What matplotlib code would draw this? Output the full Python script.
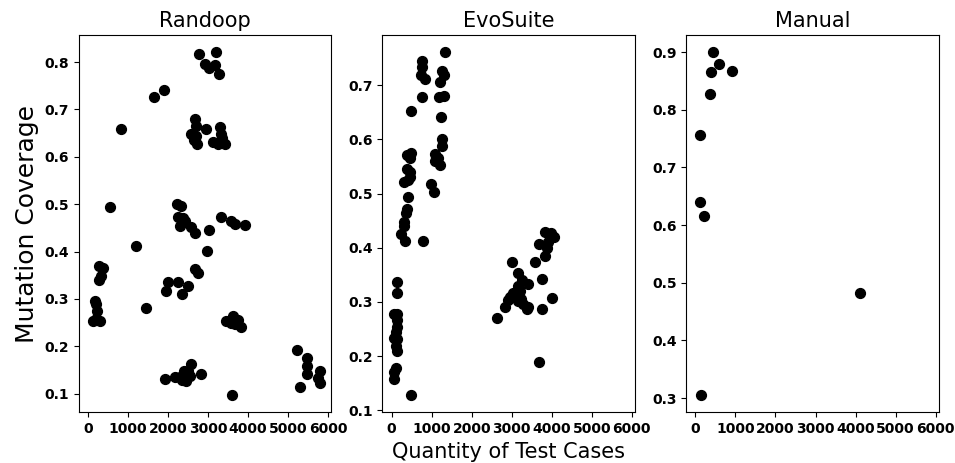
import matplotlib
matplotlib.use("Agg")
import matplotlib.pyplot as plt

# Randoop: number of test cases vs mutation coverage
randoop_x = [2775, 3193, 2918, 3025, 3168, 3268, 1900, 1660, 835, 2668,
             2693, 2960, 3293, 2585, 2710, 3335, 2735, 3125, 3418, 3343,
             2650, 3250, 560, 2235, 2318, 2250, 2418, 2293, 2585, 2668,
             3025, 3335, 3585, 3668, 3918, 2368, 1210, 2985, 268, 375,
             335, 268, 2668, 2750, 2000, 2250, 2500, 1960, 2350, 168,
             210, 235, 125, 293, 210, 1460, 3460, 3625, 3750, 3585,
             3835, 3668, 5235, 5485, 5485, 5485, 5310, 5793, 5750, 5793,
             3600, 1935, 2168, 2350, 2400, 2543, 2585, 2500, 2835, 2293,
             2443]
randoop_y = [0.818, 0.821, 0.796, 0.788, 0.794, 0.774, 0.742, 0.727, 0.659, 0.680,
             0.666, 0.659, 0.662, 0.648, 0.645, 0.648, 0.627, 0.631, 0.627, 0.640,
             0.635, 0.627, 0.495, 0.500, 0.496, 0.472, 0.465, 0.455, 0.451, 0.440,
             0.446, 0.474, 0.465, 0.459, 0.456, 0.470, 0.412, 0.402, 0.370, 0.366,
             0.349, 0.340, 0.363, 0.354, 0.335, 0.335, 0.328, 0.316, 0.310, 0.296,
             0.289, 0.275, 0.254, 0.254, 0.258, 0.280, 0.254, 0.264, 0.255, 0.250,
             0.240, 0.247, 0.192, 0.176, 0.159, 0.141, 0.114, 0.149, 0.133, 0.123,
             0.097, 0.132, 0.135, 0.128, 0.147, 0.137, 0.163, 0.148, 0.142, 0.135,
             0.127]

# EvoSuite
evosuite_x = [1343, 763, 763, 721, 829, 746, 1260, 1300, 1219, 1177,
              1300, 1244, 1260, 1260, 1094, 1078, 1219, 1150, 995, 1053,
              490, 473, 390, 470, 390, 450, 306, 400, 450, 415,
              373, 350, 306, 224, 306, 331, 788, 142, 142, 57,
              142, 142, 142, 107, 57, 142, 107, 142, 107, 57,
              57, 490, 3831, 3980, 2629, 2836, 2918, 3002, 3044, 3168,
              3168, 3200, 3168, 3290, 3375, 3400, 3416, 3250, 2960, 3582,
              3690, 3880, 3831, 3913, 4050, 3756, 3756, 3997, 3690, 3100,
              3230]
evosuite_y = [0.761, 0.744, 0.733, 0.719, 0.712, 0.679, 0.727, 0.718, 0.706, 0.679,
              0.680, 0.641, 0.601, 0.587, 0.573, 0.561, 0.552, 0.565, 0.518, 0.502,
              0.653, 0.575, 0.571, 0.565, 0.545, 0.540, 0.521, 0.525, 0.530, 0.493,
              0.472, 0.464, 0.447, 0.425, 0.440, 0.412, 0.412, 0.336, 0.317, 0.277,
              0.277, 0.266, 0.254, 0.245, 0.234, 0.232, 0.219, 0.210, 0.179, 0.170,
              0.157, 0.128, 0.430, 0.428, 0.271, 0.291, 0.304, 0.373, 0.317, 0.354,
              0.330, 0.320, 0.302, 0.296, 0.287, 0.290, 0.333, 0.340, 0.310, 0.373,
              0.407, 0.400, 0.385, 0.410, 0.420, 0.342, 0.287, 0.307, 0.189, 0.310,
              0.305]

# Manual
manual_x = [430, 578, 388, 906, 355, 108, 108, 207, 4116, 148]
manual_y = [0.900, 0.880, 0.865, 0.868, 0.828, 0.757, 0.640, 0.616, 0.483, 0.305]

titles = ['Randoop', 'EvoSuite', 'Manual']
xs = [randoop_x, evosuite_x, manual_x]
ys = [randoop_y, evosuite_y, manual_y]

fig, axes = plt.subplots(1, 3, figsize=(9.55, 4.63), dpi=100, sharex=True)
plt.subplots_adjust(left=0.0824, right=0.983, bottom=0.1095, top=0.9244, wspace=0.203)

for ax, title, x, y in zip(axes, titles, xs, ys):
    ax.scatter(x, y, s=50, color='black')
    ax.set_title(title, fontsize=15)
    ax.set_xticks([0, 1000, 2000, 3000, 4000, 5000, 6000])
    for lbl in ax.get_xticklabels() + ax.get_yticklabels():
        lbl.set_fontweight('bold')
        lbl.set_fontsize(10)

axes[0].set_ylabel('Mutation Coverage', fontsize=18)
axes[1].set_xlabel('Quantity of Test Cases', fontsize=15)

plt.savefig('out.png', dpi=100)
